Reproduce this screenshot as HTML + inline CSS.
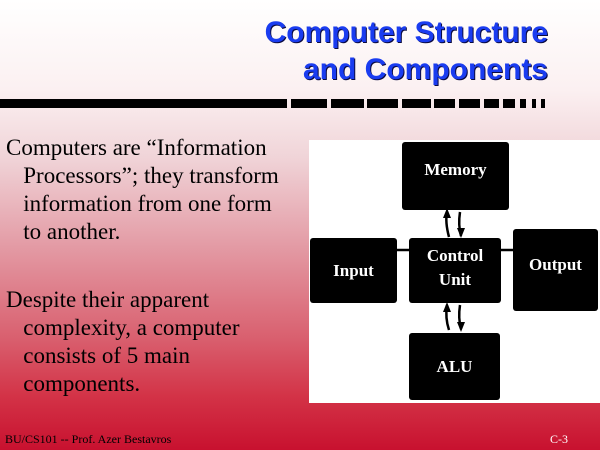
<!DOCTYPE html>
<html><head><style>
body{margin:0;}
#s{position:relative;width:600px;height:450px;overflow:hidden;font-family:"Liberation Serif",serif;
background:linear-gradient(to bottom,#ffffff 0%,#fbf0f1 20%,#f0d4d8 35%,#e39aa4 55%,#d9606f 75%,#d33347 88%,#c8112f 100%);}
.t{position:absolute;right:52px;font-family:"Liberation Sans",sans-serif;font-weight:bold;font-size:30px;color:#1a3cf0;text-shadow:1px 1px 0 #0a0a40;white-space:nowrap;}
.bar{position:absolute;top:99px;height:9px;background:#000;}
.p{position:absolute;left:6px;font-size:23px;line-height:28px;color:#000;width:310px;white-space:nowrap;}
.b{position:absolute;background:#000;color:#fff;font-weight:bold;font-size:17px;text-align:center;display:flex;align-items:center;justify-content:center;line-height:24px;border-radius:3px;box-sizing:border-box;}
.f{position:absolute;top:432px;font-size:12px;color:#000;}
</style></head><body><div id="s">
<div class="t" style="top:16px">Computer Structure</div>
<div class="t" style="top:53px">and Components</div>
<div class="bar" style="left:0;width:287px"></div>
<div class="bar" style="left:291px;width:36px"></div>
<div class="bar" style="left:331px;width:33px"></div>
<div class="bar" style="left:367px;width:31px"></div>
<div class="bar" style="left:402px;width:29px"></div>
<div class="bar" style="left:434px;width:21px"></div>
<div class="bar" style="left:459px;width:21px"></div>
<div class="bar" style="left:484px;width:15px"></div>
<div class="bar" style="left:503px;width:12px"></div>
<div class="bar" style="left:520px;width:6px"></div>
<div class="bar" style="left:532px;width:4px"></div>
<div class="bar" style="left:541px;width:4px"></div>
<div class="p" style="top:134px">Computers are “Information<br>&nbsp;&nbsp;&nbsp;Processors”; they transform<br>&nbsp;&nbsp;&nbsp;information from one form<br>&nbsp;&nbsp;&nbsp;to another.</div>
<div class="p" style="top:286px">Despite their apparent<br>&nbsp;&nbsp;&nbsp;complexity, a computer<br>&nbsp;&nbsp;&nbsp;consists of 5 main<br>&nbsp;&nbsp;&nbsp;components.</div>
<div style="position:absolute;left:309px;top:140px;width:291px;height:263px;background:#fff"></div>
<svg style="position:absolute;left:0;top:0" width="600" height="450">
<g stroke="#000" stroke-width="2.5" fill="none">
<line x1="397" y1="250" x2="409" y2="250"/><line x1="501" y1="250" x2="513" y2="250"/>
<path d="M449 237 Q445 222 447 212"/><path d="M460 212 Q458 225 461 236"/>
<path d="M449 330 Q445 318 447 305"/><path d="M460 305 Q458 318 461 329"/>
</g>
<g fill="#000">
<polygon points="447,208 443,218 451,218"/><polygon points="461,238 457,228 465,228"/>
<polygon points="447,302 443,312 451,312"/><polygon points="461,332 457,322 465,322"/>
</g>
</svg>
<div class="b" style="left:402px;top:142px;width:107px;height:68px;padding-bottom:12px">Memory</div>
<div class="b" style="left:409px;top:238px;width:92px;height:65px;padding-bottom:6px">Control<br>Unit</div>
<div class="b" style="left:310px;top:238px;width:87px;height:65px">Input</div>
<div class="b" style="left:513px;top:229px;width:85px;height:82px;padding-bottom:10px">Output</div>
<div class="b" style="left:409px;top:333px;width:91px;height:67px">ALU</div>
<div class="f" style="left:5px">BU/CS101 -- Prof. Azer Bestavros</div>
<div class="f" style="left:550px;color:#fff">C-3</div>
</div></body></html>
